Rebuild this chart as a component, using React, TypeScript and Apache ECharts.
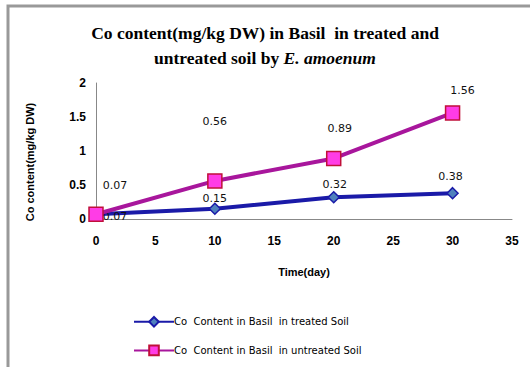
import React, { useEffect, useRef } from "react";
import * as echarts from "echarts";

const days = [0, 10, 20, 30];
const treated = [0.07, 0.15, 0.32, 0.38];
const untreated = [0.07, 0.56, 0.89, 1.56];
const seriesNames = [
  "Co  Content in Basil  in treated Soil",
  "Co  Content in Basil  in untreated Soil",
];
const titleLine1 = "Co content(mg/kg DW) in Basil  in treated and";
const titleLine2a = "untreated soil by ";
const titleLine2b = "E. amoenum";
const yName = "Co content(mg/kg DW)";
const xName = "Time(day)";

// label offsets (px) for each point, styling only
const treatedOffsets = [[19, 2], [0, -10], [1, -13], [-2, -17]];
const untreatedOffsets = [[19, -29], [0, -59], [6, -30], [10, -22]];

export default function App() {
  const ref = useRef<HTMLDivElement>(null);
  useEffect(() => {
    const chart = echarts.init(ref.current!, null, { renderer: "svg" });
    const labelStyle = {
      fontFamily: "DejaVu Sans",
      fontSize: 11,
      color: "#111",
    };
    const mk = (vals: number[], offs: number[][]) =>
      vals.map((v, i) => ({
        value: [days[i], v],
        label: {
          show: true,
          position: "inside",
          offset: offs[i],
          formatter: String(v),
          ...labelStyle,
        },
      }));
    chart.setOption({
      animation: false,
      backgroundColor: "#fff",
      title: {
        left: "center",
        top: 15,
        text: `{b|${titleLine1}}\n{b|${titleLine2a}}{i|${titleLine2b}}`,
        textStyle: {
          rich: {
            b: {
              fontFamily: "Liberation Serif",
              fontWeight: "bold",
              fontSize: 17.5,
              color: "#000",
              lineHeight: 25,
            },
            i: {
              fontFamily: "Liberation Serif",
              fontWeight: "bold",
              fontStyle: "italic",
              fontSize: 17.5,
              color: "#000",
              lineHeight: 25,
            },
          },
        },
      },
      grid: { left: 96, right: 18, top: 83, bottom: 148 },
      xAxis: {
        type: "value",
        min: 0,
        max: 35,
        interval: 5,
        name: xName,
        nameLocation: "middle",
        nameGap: 47,
        nameTextStyle: {
          fontFamily: "Liberation Sans",
          fontWeight: "bold",
          fontSize: 11,
          color: "#000",
        },
        axisLine: { lineStyle: { color: "#888", width: 1 } },
        axisTick: { show: false },
        splitLine: { show: false },
        axisLabel: {
          fontFamily: "Liberation Sans",
          fontWeight: "bold",
          fontSize: 12,
          color: "#000",
          margin: 16,
        },
      },
      yAxis: {
        type: "value",
        min: 0,
        max: 2,
        interval: 0.5,
        axisLine: { show: true, lineStyle: { color: "#888", width: 1 } },
        axisTick: { show: false },
        splitLine: { show: false },
        axisLabel: {
          fontFamily: "Liberation Sans",
          fontWeight: "bold",
          fontSize: 12,
          color: "#000",
          margin: 10,
        },
      },
      legend: {
        orient: "vertical",
        left: 128,
        top: 311,
        itemWidth: 40,
        itemHeight: 12,
        itemGap: 17,
        textStyle: {
          fontFamily: "DejaVu Sans",
          fontSize: 10,
          color: "#000",
          padding: [0, 0, 0, -5],
        },
        data: seriesNames,
      },
      graphic: [
        {
          type: "rect",
          shape: { x: 8, y: 6, width: 600, height: 500 },
          style: { fill: "none", stroke: "#999", lineWidth: 3 },
          silent: true,
        },
        {
          type: "text",
          x: 30,
          y: 162,
          rotation: Math.PI / 2,
          style: {
            text: yName,
            fontFamily: "Liberation Sans",
            fontWeight: "bold",
            fontSize: 11,
            fill: "#000",
            align: "center",
            verticalAlign: "middle",
          },
        },
      ],
      series: [
        {
          name: seriesNames[0],
          type: "line",
          data: mk(treated, treatedOffsets),
          symbol: "diamond",
          symbolSize: 11,
          lineStyle: { color: "#1a1aa8", width: 4 },
          itemStyle: { color: "#4f81bd", borderColor: "#1a1aa8", borderWidth: 1.5 },
          z: 3,
        },
        {
          name: seriesNames[1],
          type: "line",
          data: mk(untreated, untreatedOffsets),
          symbol: "rect",
          symbolSize: 14,
          lineStyle: { color: "#a8169c", width: 4 },
          itemStyle: { color: "#ff3ce6", borderColor: "#c0103a", borderWidth: 1.5 },
          z: 4,
        },
      ],
    });
    return () => chart.dispose();
  }, []);
  return (
    <div
      ref={ref}
      style={{ position: "fixed", left: 0, top: 0, width: 530, height: 367 }}
    />
  );
}
